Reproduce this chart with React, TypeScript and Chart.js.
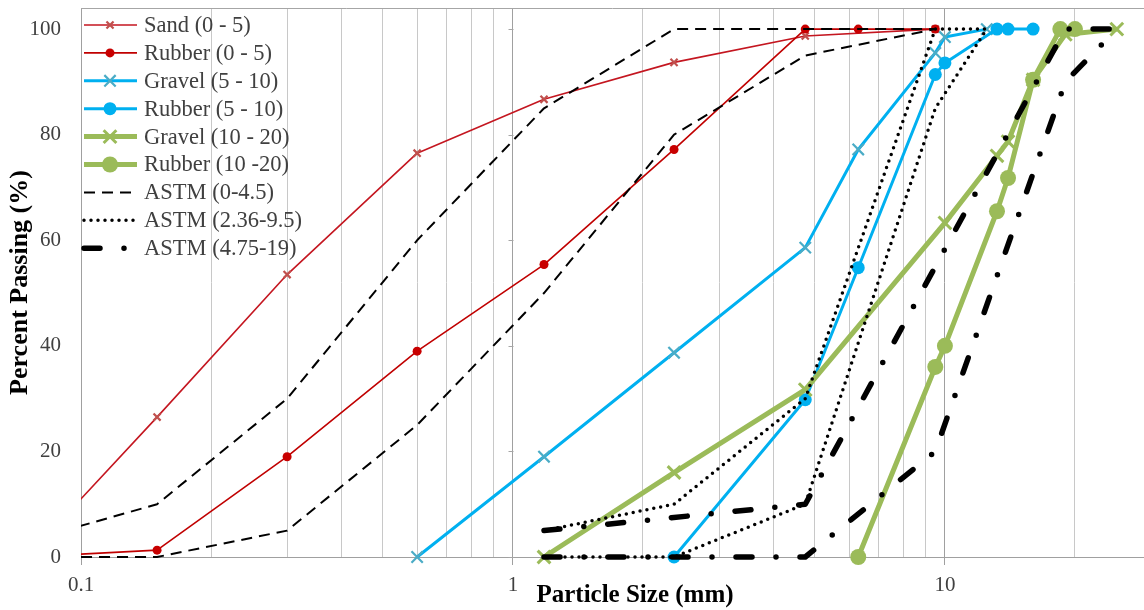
import React, { useEffect, useRef } from 'react';
import { Chart, registerables } from 'chart.js';

Chart.register(...registerables);

const FONT = "'Liberation Serif', 'Times New Roman', Times, serif";

const seriesNames = [
  'Sand (0 - 5)',
  'Rubber (0 - 5)',
  'Gravel (5 - 10)',
  'Rubber (5 - 10)',
  'Gravel (10 - 20)',
  'Rubber (10 -20)',
  'ASTM (0-4.5)',
  'ASTM (2.36-9.5)',
  'ASTM (4.75-19)',
];

// sieve sizes (mm) and percent passing
const sandSizes = [0.075, 0.15, 0.3, 0.6, 1.18, 2.36, 4.75, 9.5];
const sandPassing = [0, 26.5, 53.5, 76.5, 86.7, 93.7, 98.7, 100];

const rubber05Sizes = [0.075, 0.15, 0.3, 0.6, 1.18, 2.36, 4.75, 6.3, 9.5];
const rubber05Passing = [0, 1.3, 19, 39, 55.4, 77.2, 100, 100, 100];

const gravel510Sizes = [0.6, 1.18, 2.36, 4.75, 6.3, 9.5, 10, 12.5];
const gravel510Passing = [0, 19, 38.7, 58.6, 77.2, 95.5, 98.5, 100];

const rubber510Sizes = [2.36, 4.75, 6.3, 9.5, 10, 13.2, 14, 16];
const rubber510Passing = [0, 29.8, 54.8, 91.4, 93.6, 100, 100, 100];

const gravel1020Sizes = [1.18, 2.36, 4.75, 10, 13.2, 14, 16, 19, 25];
const gravel1020Passing = [0, 16, 31.7, 63.3, 76, 78.7, 90.4, 99, 100];

const rubber1020Sizes = [6.3, 9.5, 10, 13.2, 14, 16, 18.5, 20];
const rubber1020Passing = [0, 36, 40, 65.5, 71.8, 90.4, 100, 100];

const astmFineSizes = [0.075, 0.15, 0.3, 0.6, 1.18, 2.36, 4.75, 9.5];
const astmFineUpper = [3, 10, 30, 60, 85, 100, 100, 100];
const astmFineLower = [0, 0, 5, 25, 50, 80, 95, 100];

const astmNo8Sizes = [1.18, 2.36, 4.75, 9.5, 12.5];
const astmNo8Upper = [5, 10, 30, 100, 100];
const astmNo8Lower = [0, 0, 10, 85, 100];

const astmNo67UpperSizes = [1.18, 4.75, 9.5, 19, 25];
const astmNo67Upper = [5, 10, 55, 100, 100];
const astmNo67LowerSizes = [1.18, 2.36, 4.75, 9.5, 19, 25];
const astmNo67Lower = [0, 0, 0, 20, 90, 100];

// axis ticks
const xGridValues = [
  0.1, 0.2, 0.3, 0.4, 0.5, 0.6, 0.7, 0.8, 0.9,
  1, 2, 3, 4, 5, 6, 7, 8, 9,
  10, 20,
];
const xLabelValues = [0.1, 1, 10];
const xLabelTexts = ['0.1', '1', '10'];
const yTickValues = [0, 20, 40, 60, 80, 100];

const xTitle = 'Particle Size (mm)';
const yTitle = 'Percent Passing (%)';

function pts(xs: number[], ys: number[]) {
  return xs.map((x, i) => ({ x, y: ys[i] }));
}
function band(ux: number[], uy: number[], lx: number[], ly: number[]) {
  return [...pts(ux, uy), { x: lx[0], y: null as any }, ...pts(lx, ly)];
}

function isMajor(v: any) {
  return xLabelValues.some((m) => Math.abs(m - v) < 1e-9);
}

function drawMarker(ctx: CanvasRenderingContext2D, ds: any, x: number, y: number) {
  const r = ds.pointRadius;
  if (!r) return;
  ctx.save();
  ctx.setLineDash([]);
  if (ds.pointStyle === 'circle') {
    ctx.beginPath();
    ctx.arc(x, y, r, 0, Math.PI * 2);
    ctx.fillStyle = ds.pointBackgroundColor;
    ctx.fill();
  } else {
    const d = r * Math.SQRT1_2;
    ctx.beginPath();
    ctx.moveTo(x - d, y - d);
    ctx.lineTo(x + d, y + d);
    ctx.moveTo(x + d, y - d);
    ctx.lineTo(x - d, y + d);
    ctx.lineWidth = ds.pointBorderWidth;
    ctx.strokeStyle = ds.pointBorderColor;
    ctx.lineCap = 'butt';
    ctx.stroke();
  }
  ctx.restore();
}

const decorPlugin = {
  id: 'excelDecor',
  beforeDatasetsDraw(chart: any) {
    const { ctx, chartArea, scales } = chart;
    ctx.save();
    ctx.strokeStyle = '#A6A6A6';
    ctx.lineWidth = 1;
    ctx.beginPath();
    ctx.moveTo(chartArea.left, Math.round(chartArea.top) + 0.5);
    ctx.lineTo(chartArea.right, Math.round(chartArea.top) + 0.5);
    ctx.stroke();
    const px = Math.round(scales.x.getPixelForValue(1)) + 0.5;
    ctx.beginPath();
    yTickValues.forEach((v) => {
      const py = Math.round(scales.y.getPixelForValue(v)) + 0.5;
      ctx.moveTo(px - 5, py);
      ctx.lineTo(px, py);
    });
    ctx.stroke();
    ctx.restore();
  },
  afterDatasetsDraw(chart: any) {
    const { ctx } = chart;
    ctx.save();
    chart.data.datasets.forEach((ds: any, i: number) => {
      const y = 25 + 27.9 * i;
      ctx.save();
      ctx.beginPath();
      ctx.setLineDash(ds.borderDash || []);
      ctx.lineCap = ds.borderCapStyle || 'butt';
      ctx.lineWidth = ds.borderWidth;
      ctx.strokeStyle = ds.borderColor;
      ctx.moveTo(84, y);
      ctx.lineTo(137, y);
      ctx.stroke();
      ctx.restore();
      drawMarker(ctx, ds, 110, y);
      ctx.fillStyle = '#404040';
      ctx.font = `22.5px ${FONT}`;
      ctx.textAlign = 'left';
      ctx.textBaseline = 'middle';
      ctx.fillText(ds.label, 144, y + 1);
    });
    ctx.fillStyle = '#000000';
    ctx.font = `bold 25px ${FONT}`;
    ctx.textAlign = 'center';
    ctx.textBaseline = 'middle';
    ctx.fillText(xTitle, 635, 596);
    ctx.restore();
  },
};

const CLIP = { left: 0, top: 14, right: 14, bottom: 14 };

export default function App() {
  const ref = useRef<HTMLCanvasElement | null>(null);

  useEffect(() => {
    if (!ref.current) return;
    Chart.defaults.font.family = FONT;
    const common = { fill: false, tension: 0, clip: CLIP, borderJoinStyle: 'round' as const };
    const chart = new Chart(ref.current, {
      type: 'line',
      data: {
        datasets: [
          {
            ...common,
            label: seriesNames[0],
            data: pts(sandSizes, sandPassing),
            borderColor: 'rgb(196,22,32)',
            borderWidth: 1.6,
            pointStyle: 'crossRot',
            pointRadius: 5,
            pointBorderColor: '#C0504D',
            pointBackgroundColor: '#C0504D',
            pointBorderWidth: 2.2,
            order: 9,
          },
          {
            ...common,
            label: seriesNames[1],
            data: pts(rubber05Sizes, rubber05Passing),
            borderColor: 'rgb(192,0,0)',
            borderWidth: 1.6,
            pointStyle: 'circle',
            pointRadius: 4.5,
            pointBorderWidth: 0,
            pointBackgroundColor: 'rgb(200,0,0)',
            pointBorderColor: 'rgb(200,0,0)',
            order: 8,
          },
          {
            ...common,
            label: seriesNames[2],
            data: pts(gravel510Sizes, gravel510Passing),
            borderColor: '#00B0F0',
            borderWidth: 3,
            pointStyle: 'crossRot',
            pointRadius: 8,
            pointBorderColor: '#4BACC6',
            pointBackgroundColor: '#4BACC6',
            pointBorderWidth: 2.2,
            order: 7,
          },
          {
            ...common,
            label: seriesNames[3],
            data: pts(rubber510Sizes, rubber510Passing),
            borderColor: '#00B0F0',
            borderWidth: 3,
            pointStyle: 'circle',
            pointRadius: 6.5,
            pointBorderWidth: 0,
            pointBackgroundColor: '#00B0F0',
            pointBorderColor: '#00B0F0',
            order: 6,
          },
          {
            ...common,
            label: seriesNames[4],
            data: pts(gravel1020Sizes, gravel1020Passing),
            borderColor: '#9BBB59',
            borderWidth: 5,
            pointStyle: 'crossRot',
            pointRadius: 9,
            pointBorderColor: '#9BBB59',
            pointBackgroundColor: '#9BBB59',
            pointBorderWidth: 3,
            order: 5,
          },
          {
            ...common,
            label: seriesNames[5],
            data: pts(rubber1020Sizes, rubber1020Passing),
            borderColor: '#9BBB59',
            borderWidth: 5,
            pointStyle: 'circle',
            pointRadius: 8,
            pointBorderWidth: 0,
            pointBackgroundColor: '#9BBB59',
            pointBorderColor: '#9BBB59',
            order: 4,
          },
          {
            ...common,
            label: seriesNames[6],
            data: band(astmFineSizes, astmFineUpper, astmFineSizes, astmFineLower),
            borderColor: '#000000',
            borderWidth: 2,
            borderDash: [11, 7],
            pointRadius: 0,
            pointHoverRadius: 0,
            order: 3,
          },
          {
            ...common,
            label: seriesNames[7],
            data: band(astmNo8Sizes, astmNo8Upper, astmNo8Sizes, astmNo8Lower),
            borderColor: '#000000',
            borderWidth: 3.5,
            borderDash: [0, 7],
            borderCapStyle: 'round',
            pointRadius: 0,
            pointHoverRadius: 0,
            order: 2,
          },
          {
            ...common,
            label: seriesNames[8],
            data: band(astmNo67UpperSizes, astmNo67Upper, astmNo67LowerSizes, astmNo67Lower),
            borderColor: '#000000',
            borderWidth: 5.5,
            borderDash: [16, 24, 0, 24],
            borderCapStyle: 'round',
            pointRadius: 0,
            pointHoverRadius: 0,
            order: 1,
          },
        ] as any,
      },
      options: {
        responsive: false,
        devicePixelRatio: 1,
        animation: false,
        spanGaps: false,
        layout: { autoPadding: false, padding: { top: 8, left: 0, right: 0, bottom: 0 } },
        plugins: {
          legend: { display: false },
          tooltip: { enabled: false },
          title: { display: false },
        },
        scales: {
          x: {
            type: 'logarithmic',
            bounds: 'data',
            min: 0.1,
            max: 28.9,
            afterBuildTicks: (s: any) => {
              s.ticks = xGridValues.map((v) => ({ value: v }));
            },
            afterFit: (s: any) => {
              s.height = 53;
              s.paddingLeft = 0;
              s.paddingRight = 0;
            },
            ticks: {
              autoSkip: false,
              maxRotation: 0,
              minRotation: 0,
              padding: 8,
              color: '#404040',
              font: { family: FONT, size: 21 },
              callback: (v: any) => {
                const idx = xLabelValues.findIndex((m) => Math.abs(m - Number(v)) < 1e-9);
                return idx >= 0 ? xLabelTexts[idx] : '';
              },
            },
            grid: {
              color: (c: any) => (isMajor(c.tick && c.tick.value) ? '#A0A0A0' : '#C8C8C8'),
              lineWidth: 1,
              drawTicks: true,
              tickLength: 8,
              tickColor: (c: any) => (isMajor(c.tick && c.tick.value) ? '#A0A0A0' : 'rgba(0,0,0,0)'),
            },
            border: { display: true, color: '#A0A0A0', width: 1 },
          },
          y: {
            type: 'linear',
            bounds: 'data',
            min: 0,
            max: 104,
            afterBuildTicks: (s: any) => {
              s.ticks = yTickValues.map((v) => ({ value: v }));
            },
            afterFit: (s: any) => {
              s.width = 81;
              s.paddingTop = 0;
              s.paddingBottom = 0;
            },
            ticks: {
              padding: 20,
              color: '#404040',
              font: { family: FONT, size: 21, lineHeight: 0.7 },
            },
            grid: { display: false, drawTicks: false },
            border: { display: true, color: '#A0A0A0', width: 1 },
            title: {
              display: true,
              text: yTitle,
              color: '#000000',
              font: { family: FONT, size: 26, weight: 'bold' },
              padding: { top: 5, bottom: 0 },
            },
          },
        },
      } as any,
      plugins: [decorPlugin],
    });
    return () => chart.destroy();
  }, []);

  return (
    <div style={{ position: 'absolute', left: 0, top: 0, width: 1144, height: 610, background: '#fff' }}>
      <canvas ref={ref} width={1144} height={610} style={{ display: 'block' }} />
    </div>
  );
}
